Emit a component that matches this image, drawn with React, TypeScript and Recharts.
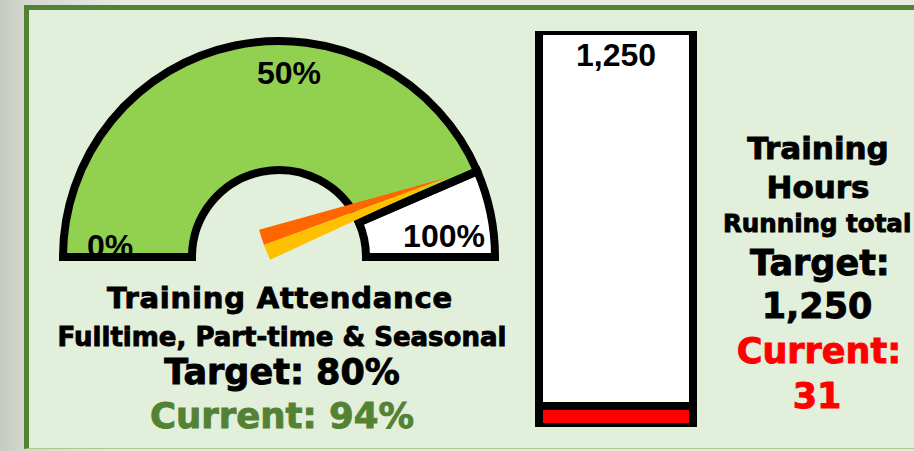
import { Bar, BarChart, LabelList, Pie, PieChart, XAxis, YAxis, Cell } from "recharts";

// gauge: share of the half ring in each band, as drawn
const gaugeBands = [
  { name: "Attendance", value: 87 },
  { name: "Remainder", value: 13 },
];
const gaugeColors = ["#92d050", "#ffffff"];
const scaleTicks = [0, 50, 100];
// where the needle points on the 0-100 scale, as drawn
const needleReading = 88.8;
const needleParts = [
  { name: "upper", value: 1 },
  { name: "lower", value: 1 },
];
const needleColors = ["#ff6600", "#ffc000"];

// running total of training hours
const hoursData = [{ name: "Training Hours", target: 1250, current: 31 }];

const attendanceTitle = "Training Attendance";
const attendanceSub = "Fulltime, Part-time & Seasonal";
const attendanceTarget = "Target: 80%";
const attendanceCurrent = "Current: 94%";
const hoursLines = ["Training", "Hours"];
const hoursSub = "Running total";
const hoursTarget = ["Target:", "1,250"];
const hoursCurrent = ["Current:", "31"];

const CX = 279;
const CY = 257;
const R_OUT = 216;
const R_IN = 87;
const heavy = "'DejaVu Sans', sans-serif";
const plain = "'Liberation Sans', Arial, sans-serif";
const tickNudge = [
  [1, 0],
  [10, -3],
  [-5, -10],
];

function GaugeTicks() {
  return (
    <svg
      width={560}
      height={300}
      style={{ position: "absolute", left: 0, top: 0 }}
    >
      {scaleTicks.map((t, i) => {
        const a = ((180 - t * 1.8) * Math.PI) / 180;
        const x = CX + 170 * Math.cos(a) + tickNudge[i][0];
        const y = CY - 170 * Math.sin(a) + tickNudge[i][1];
        return (
          <text
            key={t}
            x={x}
            y={y}
            textAnchor="middle"
            fontFamily={plain}
            fontWeight={700}
            fontSize={32}
            fill="#000"
          >
            {t}%
          </text>
        );
      })}
    </svg>
  );
}

function Line({ x, y, size, color = "#000", anchor = "middle", children }: any) {
  return (
    <text
      x={x}
      y={y}
      fontSize={size}
      fill={color}
      stroke={color}
      strokeWidth={0.9}
      textAnchor={anchor}
    >
      {children}
    </text>
  );
}

export default function App() {
  const theta = 180 - needleReading * 1.8;
  const rad = (theta * Math.PI) / 180;
  const pivotX = CX - 15;
  const pivotY = CY - 12;
  const len = 197;
  const tipX = pivotX + len * Math.cos(rad);
  const tipY = pivotY - len * Math.sin(rad);

  return (
    <div
      style={{
        position: "absolute",
        left: 0,
        top: 0,
        width: 914,
        height: 451,
        overflow: "hidden",
        background: "linear-gradient(90deg, #c4c9c1 0px, #d3d7cf 24px, #e6ebe2 120px)",
      }}
    >
      <div
        style={{
          position: "absolute",
          left: 24,
          top: 5,
          width: 900,
          height: 438,
          background: "#e2efda",
          borderTop: "5px solid #548235",
          borderLeft: "5px solid #548235",
          borderBottom: "1px solid #a9c98f",
        }}
      />

      {/* gauge fill, then scale labels, then outline and needle */}
      <div style={{ position: "absolute", left: 0, top: 0 }}>
        <PieChart width={560} height={300} margin={{ top: 0, right: 0, bottom: 0, left: 0 }}>
          <Pie
            data={gaugeBands}
            dataKey="value"
            cx={CX}
            cy={CY}
            startAngle={180}
            endAngle={0}
            innerRadius={R_IN}
            outerRadius={R_OUT}
            stroke="none"
            isAnimationActive={false}
          >
            {gaugeBands.map((b, i) => (
              <Cell key={b.name} fill={gaugeColors[i]} />
            ))}
          </Pie>
        </PieChart>
      </div>
      <GaugeTicks />
      <div style={{ position: "absolute", left: 0, top: 0 }}>
        <PieChart width={560} height={300} margin={{ top: 0, right: 0, bottom: 0, left: 0 }}>
          <Pie
            data={gaugeBands}
            dataKey="value"
            cx={CX}
            cy={CY}
            startAngle={180}
            endAngle={0}
            innerRadius={R_IN}
            outerRadius={R_OUT}
            fill="none"
            stroke="#000"
            strokeWidth={8}
            isAnimationActive={false}
          />
          <Pie
            data={needleParts}
            dataKey="value"
            cx={tipX}
            cy={tipY}
            startAngle={theta + 180 - 4.65}
            endAngle={theta + 180 + 4.65}
            innerRadius={0}
            outerRadius={len}
            stroke="none"
            isAnimationActive={false}
          >
            {needleParts.map((p, i) => (
              <Cell key={p.name} fill={needleColors[i]} />
            ))}
          </Pie>
        </PieChart>
      </div>

      <div style={{ position: "absolute", left: 534, top: 26 }}>
        <BarChart
          width={164}
          height={406}
          data={hoursData}
          margin={{ top: 5, right: 5, bottom: 5, left: 5 }}
          barCategoryGap={0}
        >
          <XAxis xAxisId="t" dataKey="name" hide />
          <XAxis xAxisId="c" dataKey="name" hide />
          <YAxis hide domain={[0, 1250]} allowDataOverflow />
          <Bar
            xAxisId="t"
            dataKey="target"
            fill="#ffffff"
            stroke="#000"
            strokeWidth={8}
            isAnimationActive={false}
          >
            <LabelList
              dataKey="target"
              position="insideTop"
              offset={12}
              formatter={(v: any) => Number(v).toLocaleString("en-US")}
              fill="#000"
              stroke="none"
              fontSize={32}
              fontFamily={plain}
              fontWeight={700}
            />
          </Bar>
          <Bar
            xAxisId="c"
            dataKey="current"
            fill="#ff0000"
            stroke="#000"
            strokeWidth={8}
            minPointSize={21}
            isAnimationActive={false}
          />
        </BarChart>
      </div>

      <svg
        width={914}
        height={451}
        style={{ position: "absolute", left: 0, top: 0, pointerEvents: "none" }}
      >
        <g fontFamily={heavy} fontWeight={700}>
          <Line x={280} y={308} size={29}>
            <tspan letterSpacing={0.8}>{attendanceTitle}</tspan>
          </Line>
          <Line x={282} y={346} size={26}>
            {attendanceSub}
          </Line>
          <Line x={282} y={384} size={35}>
            {attendanceTarget}
          </Line>
          <Line x={282} y={428} size={35.5} color="#548235">
            {attendanceCurrent}
          </Line>

          <Line x={818} y={159} size={31}>
            {hoursLines[0]}
          </Line>
          <Line x={818} y={198} size={31}>
            {hoursLines[1]}
          </Line>
          <Line x={723} y={232} size={24.5} anchor="start">
            {hoursSub}
          </Line>
          <Line x={820} y={275} size={35}>
            {hoursTarget[0]}
          </Line>
          <Line x={817} y={318} size={35}>
            {hoursTarget[1]}
          </Line>
          <Line x={819} y={363} size={35} color="#ff0000">
            {hoursCurrent[0]}
          </Line>
          <Line x={817} y={408} size={35} color="#ff0000">
            {hoursCurrent[1]}
          </Line>
        </g>
      </svg>
    </div>
  );
}
